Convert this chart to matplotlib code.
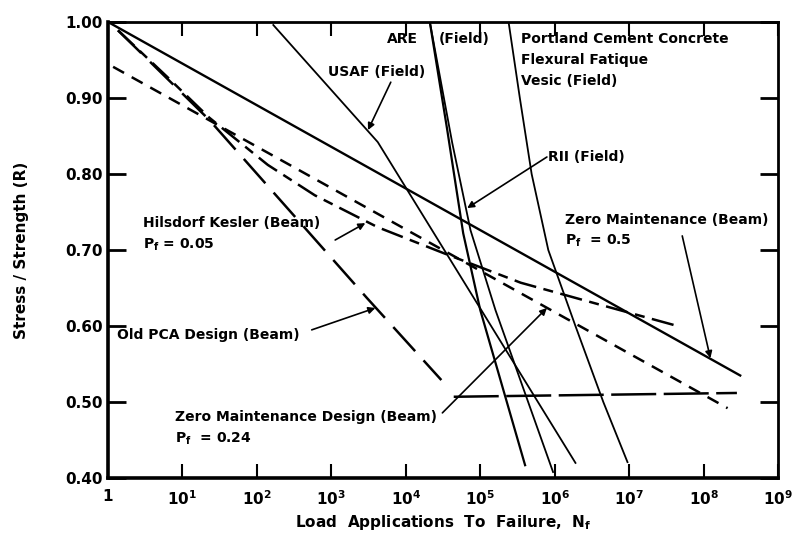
import matplotlib
matplotlib.use('Agg')
import matplotlib.pyplot as plt
from matplotlib.ticker import NullLocator

plt.rcParams['font.family'] = ['DejaVu Sans']
plt.rcParams['font.weight'] = 'bold'
plt.rcParams['mathtext.default'] = 'bf'

# Data (N = load applications, R = stress / strength)
zm50_n = [1, 3.1e8]
zm50_r = [1.00, 0.535]

zm24_n = [1.17, 2.1e8]
zm24_r = [0.941, 0.492]

hk_n = [1.36, 6.2, 23, 140, 600, 4200, 3.2e4, 3.5e5, 4.1e6, 4.9e7]
hk_r = [0.989, 0.928, 0.874, 0.812, 0.772, 0.730, 0.696, 0.657, 0.628, 0.599]

pca_n = [1.36, 23, 166, 3000, 3.0e4]
pca_r = [0.989, 0.871, 0.776, 0.637, 0.529]

flat_n = [4.4e4, 2.8e8]
flat_r = [0.507, 0.512]

usaf_n = [166, 4200, 1.9e6]
usaf_r = [0.996, 0.842, 0.420]

are_n = [2.1e4, 3.6e4, 5.9e4, 1.0e5, 4.0e5]
are_r = [1.00, 0.858, 0.722, 0.621, 0.417]

rii_n = [2.1e4, 4.2e4, 7.4e4, 1.6e5, 9.5e5]
rii_r = [1.00, 0.841, 0.726, 0.621, 0.408]

vesic_n = [2.4e5, 3.4e5, 4.9e5, 8.2e5, 1.9e6, 4.5e6, 9.5e6]
vesic_r = [1.00, 0.90, 0.80, 0.70, 0.60, 0.50, 0.421]

x_ticks = [1, 1e1, 1e2, 1e3, 1e4, 1e5, 1e6, 1e7, 1e8, 1e9]
x_labels = ['1', '$10^1$', '$10^2$', '$10^3$', '$10^4$', '$10^5$',
            '$10^6$', '$10^7$', '$10^8$', '$10^9$']
y_ticks = [0.40, 0.50, 0.60, 0.70, 0.80, 0.90, 1.00]

# Canvas
fig = plt.figure(figsize=(7.92, 5.36), dpi=100)
ax = fig.add_axes([0.1364, 0.108, 0.846, 0.851])
ax.set_xscale('log')
ax.set_xlim(1, 1e9)
ax.set_ylim(0.40, 1.00)

# Curves
ax.plot(zm50_n, zm50_r, color='black', lw=1.7)
ax.plot(zm24_n, zm24_r, color='black', lw=1.8, linestyle=(0, (5, 3.5)))
ax.plot(hk_n, hk_r, color='black', lw=1.8, linestyle=(0, (9, 3, 4, 3)))
ax.plot(pca_n, pca_r, color='black', lw=1.8, linestyle=(0, (13, 5)))
ax.plot(flat_n, flat_r, color='black', lw=1.8, linestyle=(0, (18, 3)))
ax.plot(usaf_n, usaf_r, color='black', lw=1.3)
ax.plot(are_n, are_r, color='black', lw=1.6)
ax.plot(rii_n, rii_r, color='black', lw=1.3)
ax.plot(vesic_n, vesic_r, color='black', lw=1.3)

# Axes styling
for side in ['left', 'bottom']:
    ax.spines[side].set_linewidth(2.6)
for side in ['top', 'right']:
    ax.spines[side].set_linewidth(2.0)

ax.set_xticks(x_ticks)
ax.set_xticklabels(x_labels)
ax.xaxis.set_minor_locator(NullLocator())
ax.set_yticks(y_ticks)
ax.set_yticklabels(['%.2f' % v for v in y_ticks])
ax.tick_params(axis='x', direction='in', top=True, length=10, width=1.5,
               labelsize=11, pad=8)
ax.tick_params(axis='y', direction='in', right=True, length=13, width=2,
               labelsize=11, pad=4)

ax.set_xlabel('Load  Applications  To  Failure,  N$_f$', fontsize=11,
              fontweight='bold', labelpad=4)
ax.set_ylabel('Stress / Strength (R)', fontsize=11, fontweight='bold',
              labelpad=26)

# Labels on the chart
lab = dict(transform=ax.transAxes, fontsize=10, fontweight='bold',
           ha='left', va='center')
ax.text(0.416, 0.963, 'ARE', **lab)
ax.text(0.493, 0.963, '(Field)', **lab)
ax.text(0.328, 0.890, 'USAF (Field)', **lab)
ax.text(0.616, 0.963, 'Portland Cement Concrete', **lab)
ax.text(0.616, 0.917, 'Flexural Fatique', **lab)
ax.text(0.616, 0.871, 'Vesic (Field)', **lab)
ax.text(0.657, 0.704, 'RII (Field)', **lab)
ax.text(0.682, 0.566, 'Zero Maintenance (Beam)', **lab)
ax.text(0.682, 0.520, 'P$_f$  = 0.5', **lab)
ax.text(0.052, 0.559, 'Hilsdorf Kesler (Beam)', **lab)
ax.text(0.052, 0.511, 'P$_f$ = 0.05', **lab)
ax.text(0.013, 0.314, 'Old PCA Design (Beam)', **lab)
ax.text(0.100, 0.134, 'Zero Maintenance Design (Beam)', **lab)
ax.text(0.100, 0.086, 'P$_f$  = 0.24', **lab)

# Leader arrows
arr = dict(arrowstyle='-|>', color='black', lw=1.2, mutation_scale=10,
           shrinkA=0, shrinkB=0)
ax.annotate('', xy=(0.388, 0.763), xytext=(0.422, 0.868),
            xycoords='axes fraction', arrowprops=arr)
ax.annotate('', xy=(0.536, 0.592), xytext=(0.655, 0.704),
            xycoords='axes fraction', arrowprops=arr)
ax.annotate('', xy=(0.899, 0.263), xytext=(0.857, 0.531),
            xycoords='axes fraction', arrowprops=arr)
ax.annotate('', xy=(0.384, 0.559), xytext=(0.339, 0.522),
            xycoords='axes fraction', arrowprops=arr)
ax.annotate('', xy=(0.399, 0.373), xytext=(0.304, 0.325),
            xycoords='axes fraction', arrowprops=arr)
ax.annotate('', xy=(0.655, 0.373), xytext=(0.499, 0.143),
            xycoords='axes fraction', arrowprops=arr)

fig.savefig('out.png', dpi=100)
